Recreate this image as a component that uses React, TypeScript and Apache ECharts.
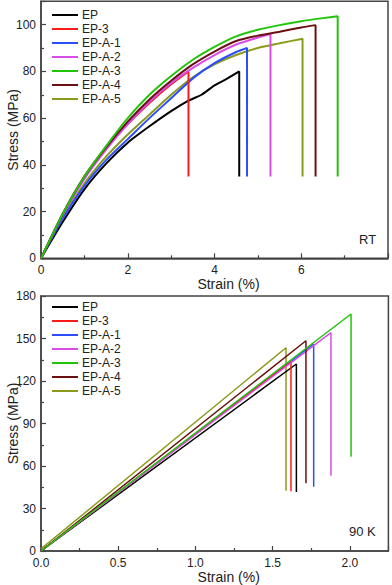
import React, { useEffect, useRef } from "react";
import * as echarts from "echarts";

const names = ["EP", "EP-3", "EP-A-1", "EP-A-2", "EP-A-3", "EP-A-4", "EP-A-5"];
const colors = ["#000000", "#ff1a1a", "#2a4dff", "#d94ce8", "#22c40a", "#6a1010", "#8c9a1c"];

// Room temperature curves: [strain %, stress MPa]
const rtEP = [[0, 0], [0.5, 15.5], [1, 29.5], [1.5, 40.5], [2, 49.5], [2.5, 56.5], [3, 63], [3.4, 67.5], [3.7, 70], [4, 74], [4.3, 77], [4.57, 80], [4.57, 35]];
const rtEP3 = [[0, 0], [0.5, 19], [1, 35], [1.5, 47.5], [2, 57.5], [2.5, 66.5], [3, 74.5], [3.4, 80], [3.4, 35]];
const rtA1 = [[0, 0], [0.5, 17], [1, 31], [1.5, 42], [2, 51], [2.5, 60], [3, 68.5], [3.5, 77], [4, 83.5], [4.5, 88.3], [4.75, 90], [4.75, 35]];
const rtA2 = [[0, 0], [0.5, 18.5], [1, 34], [1.5, 46.5], [2, 57.5], [2.5, 67], [3, 75], [3.5, 81.5], [4, 87], [4.5, 91.5], [5, 94.5], [5.29, 96], [5.29, 35]];
const rtA3 = [[0, 0], [0.5, 19], [1, 35], [1.5, 48], [2, 60], [2.5, 70], [3, 78], [3.5, 85], [4, 90.5], [4.5, 95], [5, 97.8], [5.5, 99.8], [6, 101.5], [6.5, 102.8], [6.84, 103.6], [6.84, 35]];
const rtA4 = [[0, 0], [0.5, 19], [1, 35], [1.5, 47.5], [2, 58.5], [2.5, 68], [3, 76], [3.5, 83], [4, 88.5], [4.5, 93], [5, 95.3], [5.5, 97], [6, 98.8], [6.33, 99.8], [6.33, 35]];
const rtA5 = [[0, 0], [0.5, 17.5], [1, 32], [1.5, 43.5], [2, 53], [2.5, 61.5], [3, 70], [3.5, 77.5], [4, 83], [4.5, 87], [5, 90], [5.5, 92], [6.03, 94], [6.03, 35]];

// 90 K curves
const kEP = [[0, 0], [1.654, 132], [1.654, 41.6]];
const kEP3 = [[0, 0], [1.619, 133.6], [1.619, 42.1]];
const kA1 = [[0, 0], [1.766, 146.1], [1.766, 45.4]];
const kA2 = [[0, 0], [1.878, 154.1], [1.878, 53.2]];
const kA3 = [[0, 0], [2.008, 167.3], [2.008, 66.6]];
const kA4 = [[0, 0], [1.716, 148.4], [1.716, 47.8]];
const kA5 = [[0, 1.5], [1.587, 143.5], [1.587, 42.6]];

const rtData = [rtEP, rtEP3, rtA1, rtA2, rtA3, rtA4, rtA5];
const kData = [kEP, kEP3, kA1, kA2, kA3, kA4, kA5];
const drawOrder = [6, 0, 2, 1, 3, 5, 4];

const FONT = "Liberation Sans, Arial, Helvetica, sans-serif";
const AXC = "#444";

function xAxis(gridIndex: number, max: number, interval: number, digits: number) {
  return {
    type: "value",
    gridIndex,
    min: 0,
    max,
    interval,
    name: "Strain (%)",
    nameLocation: "middle",
    nameGap: 19,
    nameMoveOverlap: false,
    nameTextStyle: { fontSize: 14, color: "#222", fontFamily: FONT, padding: [0, 0, 0, 28], verticalAlign: "top" },
    axisLine: { show: true, onZero: false, lineStyle: { color: AXC, width: 1.5 } },
    axisTick: { show: true, inside: true, length: 5, lineStyle: { color: AXC, width: 1.2 } },
    minorTick: { show: true, splitNumber: 2, length: 3, lineStyle: { color: AXC, width: 1.2 } },
    splitLine: { show: false },
    axisLabel: {
      fontSize: 12,
      lineHeight: 12,
      color: "#222",
      fontFamily: FONT,
      margin: 6,
      showMaxLabel: false,
      hideOverlap: false,
      formatter: (v: number) => v.toFixed(digits),
    },
  };
}

function yAxis(gridIndex: number, max: number, interval: number) {
  return {
    type: "value",
    gridIndex,
    min: 0,
    max,
    interval,
    name: "Stress (MPa)",
    nameLocation: "middle",
    nameGap: 21,
    nameMoveOverlap: false,
    nameTextStyle: { fontSize: 14, color: "#222", fontFamily: FONT, verticalAlign: "bottom" },
    axisLine: { show: true, onZero: false, lineStyle: { color: AXC, width: 1.5 } },
    axisTick: { show: true, inside: true, length: 5, lineStyle: { color: AXC, width: 1.2 } },
    minorTick: { show: true, splitNumber: 2, length: 3, lineStyle: { color: AXC, width: 1.2 } },
    splitLine: { show: false },
    axisLabel: { fontSize: 12, lineHeight: 11, color: "#222", fontFamily: FONT, margin: 5, hideOverlap: false, showMaxLabel: max % interval === 0 },
  };
}

function legend(top: number) {
  return {
    orient: "vertical",
    left: 52,
    top,
    padding: 0,
    itemWidth: 26,
    itemHeight: 10,
    itemGap: 2,
    icon: "path://M0,4 L26,4 L26,6 L0,6 Z",
    textStyle: { fontSize: 12, color: "#222", fontFamily: FONT, padding: [0, 0, 0, -1] },
    data: names,
  };
}

export default function App() {
  const ref = useRef<HTMLDivElement>(null);
  useEffect(() => {
    if (!ref.current) return;
    const chart = echarts.init(ref.current, null, { renderer: "svg" });
    const series: any[] = [];
    drawOrder.forEach((i) => {
      series.push({
        type: "line",
        name: names[i],
        xAxisIndex: 0,
        yAxisIndex: 0,
        data: rtData[i],
        showSymbol: false,
        symbol: "none",
        smooth: 0.2,
        lineStyle: { color: colors[i], width: 2 },
        itemStyle: { color: colors[i] },
      });
    });
    drawOrder.forEach((i) => {
      series.push({
        type: "line",
        name: names[i],
        xAxisIndex: 1,
        yAxisIndex: 1,
        data: kData[i],
        showSymbol: false,
        symbol: "none",
        lineStyle: { color: colors[i], width: 1.5 },
        itemStyle: { color: colors[i] },
      });
    });
    chart.setOption({
      animation: false,
      backgroundColor: "#ffffff",
      grid: [
        { left: 41, top: 1.3, width: 347, height: 257, show: true, borderColor: AXC, borderWidth: 1.5, containLabel: false, outerBoundsMode: "none" },
        { left: 41, top: 296, width: 347.4, height: 255, show: true, borderColor: AXC, borderWidth: 1.5, containLabel: false, outerBoundsMode: "none" },
      ],
      xAxis: [xAxis(0, 8, 2, 0), xAxis(1, 2.25, 0.5, 1)],
      yAxis: [yAxis(0, 110, 20), yAxis(1, 180, 30)],
      legend: [legend(9), legend(301)],
      graphic: [
        { type: "text", left: 359, top: 233, style: { text: "RT", fontSize: 13, fill: "#222", fontFamily: FONT } },
        { type: "text", left: 349, top: 525, style: { text: "90 K", fontSize: 13, fill: "#222", fontFamily: FONT } },
      ],
      series,
    });
    return () => chart.dispose();
  }, []);
  return (
    <div
      ref={ref}
      style={{ position: "fixed", left: 0, top: 0, width: 392, height: 585, background: "#fff" }}
    />
  );
}
